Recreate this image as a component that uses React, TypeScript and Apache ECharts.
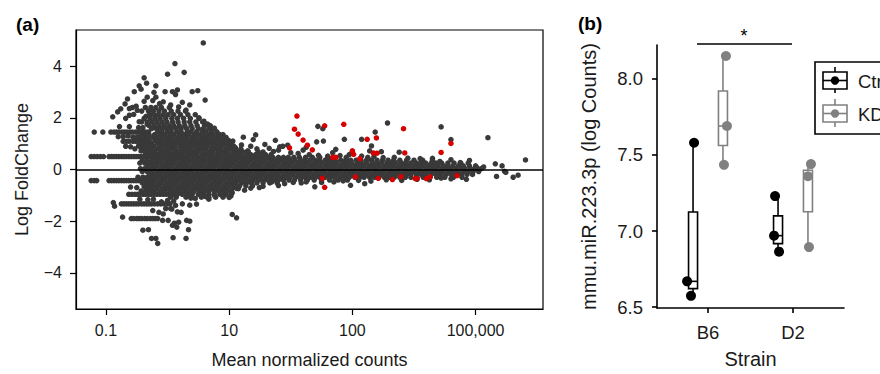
import React, { useEffect, useRef } from 'react';
import * as echarts from 'echarts';

// ---------------- Panel (a): MA plot ----------------
// x = log10(mean normalized counts), y = log fold change
const X_TICK_VALUES = [-1, 1, 3, 5];
const X_TICK_LABELS = ['0.1', '10', '100', '100,000'];
const Y_TICK_VALUES = [-4, -2, 0, 2, 4];

// discrete low-count bands: [logFC, xs]
const BAND_ROWS: [number, number[]][] = [
  [1.45, [-1.19, -1.05, -0.92, -0.87, -0.83, -0.79, -0.74, -0.7, -0.66, -0.61, -0.57, -0.52, -0.48, -0.44, -0.39, -0.35, -0.31]],
  [1.09, [-0.72, -0.67, -0.62, -0.56, -0.51, -0.46, -0.41]],
  [0.5, [-1.24, -1.19, -1.14, -1.09, -1.04, -0.95, -0.91, -0.87, -0.83, -0.79, -0.75, -0.71, -0.67, -0.63, -0.59, -0.55, -0.51, -0.47, -0.43, -0.39, -0.35, -0.31, -0.27]],
  [-0.43, [-1.24, -1.19, -1.15, -0.95, -0.91, -0.87, -0.83, -0.79, -0.75, -0.71, -0.67, -0.63, -0.59, -0.55, -0.51, -0.47, -0.43, -0.39, -0.35, -0.31, -0.27, -0.23]],
  [-0.96, [-0.63, -0.58, -0.53, -0.49, -0.45, -0.4, -0.36, -0.31, -0.27, -0.22, -0.17, -0.12, -0.07, -0.02, 0.03, 0.09, 0.16, 0.24, 0.33, 0.4, 0.5, 0.58, 0.67, 0.76, 0.85, 0.95]],
  [-1.33, [-0.75, -0.71, -0.67, -0.63, -0.59, -0.55, -0.51, -0.47, -0.42, -0.38, -0.34, -0.3, -0.26, -0.21, -0.16, -0.11, -0.06, 0.0, 0.04]],
  [-1.9, [-0.59, -0.55, -0.5, -0.46, -0.42, -0.37, -0.33, -0.28, -0.24, -0.2, -0.16]],
];

// dense cloud, read row by row: [logFC, xs]
const CLOUD_ROWS: [number, number[]][] = [
  [2.4, [-0.36, -0.27, -0.19, -0.1, 0.03]],
  [2.26, [-0.42, -0.31, -0.23, -0.14, -0.05, 0.06, 0.17, 0.29]],
  [2.12, [-0.29, -0.22, -0.15, -0.07, 0.01, 0.1, 0.21, 0.33, 0.45]],
  [1.98, [-0.38, -0.28, -0.2, -0.12, -0.03, 0.07, 0.16, 0.26, 0.37, 0.51]],
  [1.84, [-0.42, -0.33, -0.25, -0.17, -0.09, -0.01, 0.08, 0.17, 0.27, 0.36, 0.46, 0.57]],
  [1.7, [-0.3, -0.22, -0.14, -0.06, 0.02, 0.1, 0.19, 0.28, 0.38, 0.48, 0.6, 0.69]],
  [1.58, [-0.26, -0.18, -0.1, -0.02, 0.06, 0.14, 0.22, 0.31, 0.4, 0.5, 0.58, 0.67, 0.75]],
  [1.46, [-0.16, -0.09, 0.0, 0.06, 0.15, 0.22, 0.32, 0.38, 0.47, 0.56, 0.62, 0.71, 0.8]],
  [1.35, [-0.38, -0.3, -0.21, -0.12, -0.05, 0.04, 0.1, 0.19, 0.27, 0.34, 0.43, 0.5, 0.58, 0.67, 0.74, 0.83, 0.9]],
  [1.24, [-0.45, -0.33, -0.24, -0.17, -0.08, 0.0, 0.07, 0.16, 0.23, 0.31, 0.4, 0.46, 0.55, 0.63, 0.7, 0.79, 0.86, 0.95]],
  [1.13, [-0.5, -0.4, -0.3, -0.2, -0.13, -0.04, 0.03, 0.12, 0.2, 0.27, 0.36, 0.43, 0.51, 0.6, 0.66, 0.75, 0.83, 0.9, 0.99]],
  [1.02, [-0.42, -0.34, -0.26, -0.16, -0.09, 0.0, 0.08, 0.15, 0.24, 0.31, 0.39, 0.47, 0.55, 0.63, 0.71, 0.78, 0.87, 0.94, 1.03]],
  [0.91, [-0.47, -0.38, -0.3, -0.22, -0.13, -0.05, 0.03, 0.11, 0.2, 0.27, 0.35, 0.42, 0.51, 0.59, 0.66, 0.75, 0.83, 0.9, 0.99, 1.07]],
  [0.8, [-0.41, -0.33, -0.25, -0.17, -0.1, -0.01, 0.07, 0.14, 0.23, 0.31, 0.38, 0.47, 0.55, 0.62, 0.71, 0.79, 0.86, 0.95, 1.03, 1.1, 1.19]],
  [0.69, [-0.37, -0.29, -0.21, -0.12, -0.05, 0.03, 0.12, 0.19, 0.27, 0.35, 0.43, 0.5, 0.59, 0.67, 0.74, 0.83, 0.91, 0.98, 1.07, 1.15, 1.22, 1.31, 1.47]],
  [0.58, [-0.32, -0.24, -0.16, -0.08, 0.0, 0.08, 0.16, 0.23, 0.32, 0.39, 0.47, 0.56, 0.63, 0.71, 0.8, 0.87, 0.95, 1.04, 1.11, 1.19, 1.28, 1.35, 1.43, 1.52, 1.59, 1.68]],
  [0.47, [-0.2, -0.12, -0.04, 0.04, 0.11, 0.2, 0.28, 0.35, 0.44, 0.51, 0.59, 0.68, 0.75, 0.83, 0.92, 0.99, 1.07, 1.16, 1.23, 1.31, 1.4, 1.47, 1.55, 1.64, 1.71, 1.8, 1.88, 1.96, 2.05, 2.14, 2.24, 2.35, 2.47, 2.6, 2.9, 3.25]],
  [0.36, [-0.41, -0.33, -0.25, -0.16, -0.09, 0.0, 0.07, 0.15, 0.24, 0.31, 0.39, 0.48, 0.55, 0.63, 0.72, 0.79, 0.87, 0.96, 1.03, 1.11, 1.2, 1.27, 1.35, 1.44, 1.51, 1.59, 1.68, 1.75, 1.83, 1.92, 1.99, 2.07, 2.16, 2.23, 2.31, 2.4, 2.47, 2.56, 2.64, 2.72, 2.81, 2.89, 2.97, 3.06, 3.14, 3.23, 3.31, 3.4, 3.49, 3.58, 3.67, 3.77, 3.88, 4.0, 4.14, 4.3]],
  [0.25, [-0.45, -0.37, -0.29, -0.21, -0.13, -0.04, 0.03, 0.11, 0.2, 0.27, 0.35, 0.44, 0.51, 0.59, 0.68, 0.75, 0.83, 0.92, 0.99, 1.07, 1.16, 1.23, 1.31, 1.4, 1.47, 1.55, 1.64, 1.71, 1.79, 1.88, 1.95, 2.03, 2.12, 2.19, 2.27, 2.36, 2.43, 2.51, 2.6, 2.67, 2.75, 2.84, 2.91, 2.99, 3.08, 3.15, 3.23, 3.32, 3.39, 3.47, 3.56, 3.63, 3.71, 3.8, 3.87, 3.95, 4.04, 4.11, 4.19, 4.28, 4.36, 4.45, 4.55, 4.65, 4.76, 4.88]],
  [0.14, [-0.33, -0.25, -0.17, -0.08, -0.01, 0.07, 0.16, 0.23, 0.31, 0.4, 0.47, 0.55, 0.64, 0.71, 0.79, 0.88, 0.95, 1.03, 1.12, 1.19, 1.27, 1.36, 1.43, 1.51, 1.6, 1.67, 1.75, 1.84, 1.91, 1.99, 2.08, 2.15, 2.23, 2.32, 2.39, 2.47, 2.56, 2.63, 2.71, 2.8, 2.87, 2.95, 3.04, 3.11, 3.19, 3.28, 3.35, 3.43, 3.52, 3.59, 3.67, 3.76, 3.83, 3.91, 4.0, 4.07, 4.15, 4.24, 4.31, 4.39, 4.48, 4.55, 4.63, 4.72, 4.8, 4.9, 5.0]],
  [0.03, [-0.44, -0.37, -0.29, -0.21, -0.12, -0.05, 0.03, 0.12, 0.19, 0.27, 0.36, 0.43, 0.51, 0.6, 0.67, 0.75, 0.84, 0.91, 0.99, 1.08, 1.15, 1.23, 1.32, 1.39, 1.47, 1.56, 1.63, 1.71, 1.8, 1.87, 1.95, 2.04, 2.11, 2.19, 2.28, 2.35, 2.43, 2.52, 2.59, 2.67, 2.76, 2.83, 2.91, 3.0, 3.07, 3.15, 3.24, 3.31, 3.39, 3.48, 3.55, 3.63, 3.72, 3.79, 3.87, 3.96, 4.03, 4.11, 4.2, 4.27, 4.35, 4.44, 4.51, 4.59, 4.68, 4.75, 4.83, 4.92, 5.0, 5.09]],
  [-0.08, [-0.41, -0.33, -0.25, -0.16, -0.09, 0.0, 0.08, 0.15, 0.24, 0.32, 0.39, 0.48, 0.56, 0.63, 0.72, 0.8, 0.87, 0.96, 1.04, 1.11, 1.2, 1.28, 1.35, 1.44, 1.52, 1.59, 1.68, 1.76, 1.83, 1.92, 2.0, 2.07, 2.16, 2.24, 2.31, 2.4, 2.48, 2.55, 2.64, 2.72, 2.79, 2.88, 2.96, 3.03, 3.12, 3.2, 3.27, 3.36, 3.44, 3.51, 3.6, 3.68, 3.75, 3.84, 3.92, 3.99, 4.08, 4.16, 4.23, 4.32, 4.4, 4.47, 4.56, 4.64, 4.71, 4.8, 4.88, 4.96, 5.05]],
  [-0.19, [-0.29, -0.21, -0.13, -0.04, 0.04, 0.11, 0.2, 0.28, 0.35, 0.44, 0.52, 0.59, 0.68, 0.76, 0.83, 0.92, 1.0, 1.07, 1.16, 1.24, 1.31, 1.4, 1.48, 1.55, 1.64, 1.72, 1.79, 1.88, 1.96, 2.03, 2.12, 2.2, 2.27, 2.36, 2.44, 2.51, 2.6, 2.68, 2.75, 2.84, 2.92, 2.99, 3.08, 3.16, 3.23, 3.32, 3.4, 3.47, 3.56, 3.64, 3.71, 3.8, 3.88, 3.95, 4.04, 4.12, 4.19, 4.28, 4.36, 4.43, 4.52, 4.6, 4.68, 4.77, 4.86, 4.95]],
  [-0.3, [-0.48, -0.4, -0.33, -0.25, -0.17, -0.08, 0.0, 0.07, 0.16, 0.24, 0.31, 0.4, 0.48, 0.55, 0.64, 0.72, 0.79, 0.88, 0.96, 1.03, 1.12, 1.2, 1.27, 1.36, 1.44, 1.51, 1.6, 1.68, 1.75, 1.84, 1.92, 1.99, 2.08, 2.16, 2.23, 2.32, 2.4, 2.47, 2.56, 2.64, 2.71, 2.8, 2.88, 2.95, 3.04, 3.12, 3.19, 3.28, 3.36, 3.43, 3.52, 3.6, 3.68, 3.77, 3.86, 3.95, 4.05, 4.15, 4.26, 4.37, 4.5, 4.64, 4.78]],
  [-0.41, [-0.21, -0.12, -0.05, 0.04, 0.12, 0.19, 0.28, 0.36, 0.43, 0.52, 0.6, 0.67, 0.76, 0.84, 0.91, 1.0, 1.08, 1.15, 1.24, 1.32, 1.39, 1.48, 1.56, 1.63, 1.72, 1.8, 1.88, 1.97, 2.06, 2.16, 2.27, 2.38, 2.5, 2.63, 2.77, 2.92]],
  [-0.52, [-0.41, -0.33, -0.25, -0.16, -0.09, 0.0, 0.08, 0.15, 0.24, 0.32, 0.39, 0.48, 0.56, 0.63, 0.72, 0.8, 0.87, 0.96, 1.04, 1.11, 1.2, 1.28, 1.36, 1.45, 1.55, 1.66, 1.78]],
  [-0.63, [-0.37, -0.29, -0.21, -0.13, -0.04, 0.04, 0.11, 0.2, 0.28, 0.35, 0.44, 0.52, 0.59, 0.68, 0.76, 0.83, 0.92, 1.0, 1.08, 1.17, 1.27, 1.38]],
  [-0.74, [-0.33, -0.25, -0.17, -0.08, 0.0, 0.07, 0.16, 0.24, 0.31, 0.4, 0.48, 0.55, 0.64, 0.72, 0.79, 0.88, 0.96, 1.05, 1.15]],
  [-0.85, [-0.36, -0.29, -0.21, -0.12, -0.05, 0.04, 0.12, 0.19, 0.28, 0.36, 0.43, 0.52, 0.6, 0.67, 0.76, 0.84, 0.92, 1.01]],
  [-1.07, [0.05, 0.14, 0.3, 0.38, 0.55, 0.67, 0.78, 0.9]],
];

// individual non-significant genes outside the dense cloud: [log10 mean, logFC]
const SCATTERED_GENES: [number, number][] = [
  [-0.89, 2.04], [-0.81, 2.23], [-0.76, 2.35], [-0.69, 2.54], [-0.65, 2.73], [-0.54, 3.01], [-0.46, 3.24], [-0.43, 3.11],
  [-0.38, 3.55], [-0.34, 3.34], [-0.19, 3.24], [-0.22, 2.99], [-0.04, 3.01], [0.0, 3.69], [0.08, 3.01], [0.12, 4.1],
  [0.16, 3.08], [0.13, 2.9], [0.27, 3.76], [0.24, 2.6], [0.18, 2.42], [0.4, 3.01], [0.49, 3.05], [0.58, 4.9],
  [0.61, 2.69], [0.51, 2.0], [0.59, 1.87], [0.65, 1.76], [0.7, 1.66], [0.76, 1.6], [0.84, 1.36], [0.89, 1.2],
  [-0.78, 1.66], [-0.68, 1.98], [-0.62, 2.1], [-0.55, 2.13], [-0.49, 2.29], [-0.57, 2.4], [-0.51, 2.45], [-0.62, 2.36],
  [-0.38, 2.64], [-0.33, 2.8], [-0.24, 2.67], [-0.19, 2.8], [-0.46, 1.85], [-0.35, 2.06], [-0.13, 2.55], [-0.07, 2.62],
  [0.05, 2.5], [0.3, 2.3], [0.36, 2.5],
  [-0.68, 0.9], [-0.6, 0.88], [-0.53, 0.8], [-0.45, 0.9], [-0.38, 0.9], [-0.35, 0.84], [-0.43, 0.72], [-0.3, 0.69],
  [-0.49, 1.26], [-0.42, 1.3], [-0.35, 1.2], [-0.56, 1.25], [-0.8, 1.27], [-0.72, 1.27], [-0.64, 1.3], [-0.4, 1.62],
  [-0.33, 1.75], [-0.47, 1.62], [-0.62, 1.66],
  [-0.88, -1.28], [-0.86, -1.42], [-0.73, -1.84], [-0.38, -0.67], [-0.31, -0.74], [-0.24, -0.78], [-0.43, -0.83],
  [-0.5, -0.7], [-0.6, -0.68], [-0.23, -1.15], [-0.32, -1.17], [-0.45, -1.15], [-0.14, -1.66], [-0.24, -1.59],
  [-0.03, -1.51], [-0.07, -1.72], [0.05, -1.51], [0.07, -1.53], [0.16, -1.64], [0.13, -1.39], [0.22, -1.66],
  [0.24, -1.33], [0.36, -1.38], [0.47, -1.34], [0.38, -1.11], [0.45, -1.12], [0.67, -1.15], [0.76, -0.99],
  [0.89, -0.92], [1.03, -1.02], [1.0, -1.08], [-0.08, -1.97], [0.01, -1.97], [0.11, -2.08], [0.15, -2.23],
  [0.08, -2.16], [0.18, -2.04], [0.31, -1.97], [0.36, -2.0], [0.34, -2.33], [0.09, -2.64], [0.3, -2.67],
  [-0.16, -2.86], [-0.19, -2.67], [-0.26, -2.67], [-0.4, -2.35], [-0.31, -2.33], [1.05, -1.74], [1.12, -1.87],
  [-0.1, -1.25], [0.0, -1.2], [0.1, -1.22], [0.55, -1.0], [0.62, -1.05],
  [1.06, 1.1], [1.23, 1.25], [1.39, 1.16], [1.43, 1.34], [1.58, 0.97], [1.75, 1.13], [1.82, 0.88], [1.87, 0.9],
  [1.95, 0.94], [2.25, 0.86], [2.44, 1.67], [2.52, 1.58], [2.42, 1.07], [2.53, 1.1], [2.87, 1.17], [3.15, 1.17],
  [3.31, 0.91], [3.37, 1.45], [3.57, 1.8], [2.68, 0.65], [2.73, 0.78], [3.28, 0.72], [3.47, 0.69], [3.76, 0.67],
  [4.44, 1.65], [4.6, 1.16], [5.2, 1.23], [4.42, 0.31], [4.75, 0.27], [5.32, 0.22], [5.43, 0.14], [5.81, 0.37],
  [5.47, -0.07], [5.34, -0.27], [5.61, -0.3], [5.69, -0.22], [4.44, -0.33], [5.13, 0.1], [5.02, 0.07], [5.49, -0.11],
  [1.1, 0.85], [1.2, 0.95], [1.3, 0.72], [1.35, 0.9], [1.45, 0.8], [1.55, 0.68], [1.65, 0.82], [1.72, 0.7],
  [1.8, 0.75], [2.0, 0.65], [2.12, 0.62], [2.3, 0.58], [2.45, 0.55], [2.6, 0.52], [2.8, 0.54], [2.95, 0.58],
  [3.15, 0.52], [3.35, 0.5], [3.5, 0.46], [3.68, 0.47], [3.9, 0.44], [4.1, 0.42], [4.3, 0.43], [4.6, 0.38],
  [4.9, 0.35], [3.0, 0.7], [2.2, 0.75],
  [1.05, -0.9], [1.12, -0.73], [1.25, -0.8], [1.49, -0.7], [1.55, -0.65], [1.69, -0.48], [1.9, -0.55], [2.04, -0.5],
  [2.17, -0.52], [2.25, -0.48], [2.39, -0.67], [2.5, -0.5], [2.7, -0.48], [2.85, -0.44], [2.97, -0.61], [3.1, -0.42],
  [3.2, -0.55], [3.3, -0.45], [3.55, -0.4], [3.8, -0.42], [4.05, -0.38], [4.25, -0.4], [4.6, -0.36], [4.85, -0.38],
  [1.8, -0.62], [1.35, -0.72],
];

// significant genes (red)
const SIGNIFICANT_GENES: [number, number][] = [
  [2.1, 2.07], [2.06, 1.56], [2.12, 1.37], [2.2, 1.14], [2.27, 0.94], [2.35, 0.76], [1.98, 0.84], [2.55, 1.69],
  [2.86, 1.75], [2.68, 0.47], [2.73, 0.47], [3.0, 0.72], [3.02, 0.59], [3.12, 0.42], [3.24, 1.17], [3.39, 1.22],
  [3.34, 0.64], [3.4, 0.63], [2.51, -0.34], [2.55, -0.69], [3.05, -0.29], [3.42, -0.34], [3.65, -0.39], [3.83, 1.58],
  [3.85, 0.64], [3.79, -0.28], [4.44, 0.66], [4.6, 1.01], [4.02, -0.35], [4.05, -0.35], [4.2, -0.35], [4.26, -0.29],
  [4.7, -0.24],
];

// ---------------- Panel (b): boxplots ----------------
const STRAINS = ['B6', 'D2'];
const GROUP_NAMES = ['Ctrl', 'KD'];
// log counts per strain (B6, D2)
const CTRL_VALUES: number[][] = [[7.58, 6.67, 6.575], [7.23, 6.97, 6.865]];
const KD_VALUES: number[][] = [[8.15, 7.69, 7.435], [7.44, 7.36, 6.895]];
// horizontal jitter of each point (category units)
const CTRL_JITTER: number[][] = [[0.012, -0.07, -0.024], [-0.035, -0.047, 0.012]];
const KD_JITTER: number[][] = [[0.035, 0.047, 0.012], [0.035, 0.0, 0.012]];
const B_TICKS = [6.5, 7.0, 7.5, 8.0];

const FONT = '"Liberation Sans", Arial, Helvetica, sans-serif';
const TEXT = '#1a1a1a';
const DARK = '#393939';
const RED = '#d60000';
const CTRL_COLOR = '#000000';
const KD_COLOR = '#808080';
const DODGE = 0.176;

function quantile(sorted: number[], p: number) {
  const h = (sorted.length - 1) * p;
  const lo = Math.floor(h);
  const hi = Math.ceil(h);
  return sorted[lo] + (h - lo) * (sorted[hi] - sorted[lo]);
}

function boxStats(vals: number[]) {
  const s = [...vals].sort((a, b) => a - b);
  return [s[0], quantile(s, 0.25), quantile(s, 0.5), quantile(s, 0.75), s[s.length - 1]];
}

function boxRenderer(color: string) {
  return (params: any, api: any) => {
    const x = api.value(0);
    const pMin = api.coord([x, api.value(1)]);
    const pQ1 = api.coord([x, api.value(2)]);
    const pMed = api.coord([x, api.value(3)]);
    const pQ3 = api.coord([x, api.value(4)]);
    const pMax = api.coord([x, api.value(5)]);
    const cx = pMin[0];
    const hw = 4.5;
    const ls = { stroke: color, lineWidth: 1.6, fill: 'none' };
    return {
      type: 'group',
      children: [
        { type: 'line', shape: { x1: cx, y1: pMax[1], x2: cx, y2: pQ3[1] }, style: ls },
        { type: 'line', shape: { x1: cx, y1: pQ1[1], x2: cx, y2: pMin[1] }, style: ls },
        { type: 'rect', shape: { x: cx - hw, y: pQ3[1], width: hw * 2, height: pQ1[1] - pQ3[1] }, style: { fill: '#fff', stroke: color, lineWidth: 1.6 } },
        { type: 'line', shape: { x1: cx - hw, y1: pMed[1], x2: cx + hw, y2: pMed[1] }, style: ls },
      ],
    };
  };
}

function buildOption() {
  const darkData: number[][] = [];
  BAND_ROWS.forEach(([y, xs]) => xs.forEach((x) => darkData.push([x, y])));
  CLOUD_ROWS.forEach(([y, xs]) => xs.forEach((x) => darkData.push([x, y])));
  SCATTERED_GENES.forEach((p) => darkData.push(p));

  const ctrlBoxes = CTRL_VALUES.map((v, i) => [i - DODGE, ...boxStats(v)]);
  const kdBoxes = KD_VALUES.map((v, i) => [i + DODGE, ...boxStats(v)]);
  const ctrlPts: number[][] = [];
  CTRL_VALUES.forEach((vals, i) => vals.forEach((v, j) => ctrlPts.push([i - DODGE + CTRL_JITTER[i][j], v])));
  const kdPts: number[][] = [];
  KD_VALUES.forEach((vals, i) => vals.forEach((v, j) => kdPts.push([i + DODGE + KD_JITTER[i][j], v])));

  const minus = (v: number) => (v < 0 ? '\u2212' + Math.abs(v) : String(v));
  const axisLineA = { show: true, onZero: false, lineStyle: { color: '#000', width: 1.2 } };
  const axisLineB = { show: true, onZero: false, lineStyle: { color: '#000', width: 1.6 } };

  return {
    animation: false,
    backgroundColor: '#fff',
    textStyle: { fontFamily: FONT },
    grid: [
      { left: 76, top: 30, width: 467, height: 283, show: true, borderColor: '#000', borderWidth: 1.2, backgroundColor: 'transparent' },
      { left: 657, top: 45, width: 187, height: 267 },
    ],
    xAxis: [
      {
        gridIndex: 0, type: 'value', min: -1.486, max: 6.094,
        axisLine: axisLineA,
        splitLine: { show: false },
        axisTick: { show: true, length: 6, customValues: X_TICK_VALUES, lineStyle: { color: '#000', width: 1.2 } },
        axisLabel: {
          customValues: X_TICK_VALUES,
          formatter: (v: number) => X_TICK_LABELS[X_TICK_VALUES.indexOf(Math.round(v))] ?? '',
          fontSize: 16, color: TEXT, margin: 13, fontFamily: FONT,
        },
        name: 'Mean normalized counts', nameLocation: 'middle', nameGap: 42,
        nameTextStyle: { fontSize: 18, color: TEXT, fontFamily: FONT },
      },
      {
        gridIndex: 1, type: 'value', min: -0.6, max: 1.6,
        axisLine: axisLineB,
        splitLine: { show: false },
        axisTick: { show: true, length: 5, customValues: [0, 1], lineStyle: { color: '#000', width: 1.6 } },
        axisLabel: {
          customValues: [0, 1],
          formatter: (v: number) => STRAINS[Math.round(v)] ?? '',
          fontSize: 18.5, color: TEXT, margin: 15, fontFamily: FONT,
        },
        name: 'Strain', nameLocation: 'middle', nameGap: 41,
        nameTextStyle: { fontSize: 20, color: TEXT, fontFamily: FONT },
      },
    ],
    yAxis: [
      {
        gridIndex: 0, type: 'value', min: -5.4, max: 5.4,
        axisLine: axisLineA,
        splitLine: { show: false },
        axisTick: { show: true, length: 6, customValues: Y_TICK_VALUES, lineStyle: { color: '#000', width: 1.2 } },
        axisLabel: { customValues: Y_TICK_VALUES, formatter: minus, fontSize: 16, color: TEXT, margin: 14, fontFamily: FONT },
        name: 'Log FoldChange', nameLocation: 'middle', nameGap: 45,
        nameTextStyle: { fontSize: 18, color: TEXT, fontFamily: FONT },
      },
      {
        gridIndex: 1, type: 'value', min: 6.495, max: 8.222,
        axisLine: axisLineB,
        splitLine: { show: false },
        axisTick: { show: true, length: 5, customValues: B_TICKS, lineStyle: { color: '#000', width: 1.6 } },
        axisLabel: { customValues: B_TICKS, formatter: (v: number) => v.toFixed(1), fontSize: 18.5, color: TEXT, margin: 14, fontFamily: FONT },
        name: 'mmu.miR.223.3p (log Counts)', nameLocation: 'middle', nameGap: 58,
        nameTextStyle: { fontSize: 20, color: TEXT, fontFamily: FONT },
      },
    ],
    series: [
      {
        name: 'genes', type: 'scatter', xAxisIndex: 0, yAxisIndex: 0, data: darkData,
        symbol: 'circle', symbolSize: 5.5, itemStyle: { color: DARK, opacity: 1 }, silent: true, z: 2,
      },
      {
        name: 'significant', type: 'scatter', xAxisIndex: 0, yAxisIndex: 0, data: SIGNIFICANT_GENES,
        symbol: 'circle', symbolSize: 5.5, itemStyle: { color: RED, opacity: 1 }, silent: true, z: 3,
        markLine: {
          silent: true, symbol: ['none', 'none'], label: { show: false },
          lineStyle: { color: '#000', width: 1.5, type: 'solid', opacity: 1 },
          data: [{ yAxis: 0 }],
        },
      },
      {
        name: GROUP_NAMES[0] + ' box', type: 'custom', xAxisIndex: 1, yAxisIndex: 1, data: ctrlBoxes,
        encode: { x: 0, y: [1, 2, 3, 4, 5] }, renderItem: boxRenderer(CTRL_COLOR), silent: true, z: 2,
      },
      {
        name: GROUP_NAMES[1] + ' box', type: 'custom', xAxisIndex: 1, yAxisIndex: 1, data: kdBoxes,
        encode: { x: 0, y: [1, 2, 3, 4, 5] }, renderItem: boxRenderer(KD_COLOR), silent: true, z: 2,
      },
      {
        name: GROUP_NAMES[0], type: 'scatter', xAxisIndex: 1, yAxisIndex: 1, data: ctrlPts,
        symbolSize: 10, itemStyle: { color: CTRL_COLOR, opacity: 1 }, silent: true, z: 4,
      },
      {
        name: GROUP_NAMES[1], type: 'scatter', xAxisIndex: 1, yAxisIndex: 1, data: kdPts,
        symbolSize: 10, itemStyle: { color: KD_COLOR, opacity: 1 }, silent: true, z: 4,
      },
    ],
    graphic: [
      { type: 'text', x: 16, y: 24, style: { text: '(a)', font: `bold 19px ${FONT}`, fill: '#000', verticalAlign: 'middle', align: 'left' } },
      { type: 'text', x: 578, y: 23, style: { text: '(b)', font: `bold 19px ${FONT}`, fill: '#000', verticalAlign: 'middle', align: 'left' } },
      // significance bar
      { type: 'line', shape: { x1: 697, y1: 44, x2: 792, y2: 44 }, style: { stroke: '#000', lineWidth: 1.4 } },
      { type: 'text', x: 744, y: 36, style: { text: '*', font: `18px ${FONT}`, fill: '#000', align: 'center', verticalAlign: 'middle' } },
      // legend (clipped at the right edge, as in the reference)
      { type: 'rect', shape: { x: 815, y: 62, width: 120, height: 72 }, style: { fill: '#fff', stroke: '#000', lineWidth: 1.6 } },
      { type: 'line', shape: { x1: 835, y1: 67, x2: 835, y2: 93 }, style: { stroke: CTRL_COLOR, lineWidth: 1.6 } },
      { type: 'rect', shape: { x: 823, y: 72, width: 24, height: 17 }, style: { fill: '#fff', stroke: CTRL_COLOR, lineWidth: 1.6 } },
      { type: 'line', shape: { x1: 823, y1: 80.5, x2: 847, y2: 80.5 }, style: { stroke: CTRL_COLOR, lineWidth: 1.6 } },
      { type: 'circle', shape: { cx: 835, cy: 80.5, r: 4.2 }, style: { fill: CTRL_COLOR } },
      { type: 'text', x: 858, y: 81, style: { text: GROUP_NAMES[0], font: `18.5px ${FONT}`, fill: TEXT, verticalAlign: 'middle', align: 'left' } },
      { type: 'line', shape: { x1: 835, y1: 99, x2: 835, y2: 127 }, style: { stroke: KD_COLOR, lineWidth: 1.6 } },
      { type: 'rect', shape: { x: 823, y: 105, width: 24, height: 17 }, style: { fill: '#fff', stroke: KD_COLOR, lineWidth: 1.6 } },
      { type: 'line', shape: { x1: 823, y1: 113.5, x2: 847, y2: 113.5 }, style: { stroke: KD_COLOR, lineWidth: 1.6 } },
      { type: 'circle', shape: { cx: 835, cy: 113.5, r: 4.2 }, style: { fill: KD_COLOR } },
      { type: 'text', x: 858, y: 114, style: { text: GROUP_NAMES[1], font: `18.5px ${FONT}`, fill: TEXT, verticalAlign: 'middle', align: 'left' } },
    ],
  };
}

export default function App() {
  const ref = useRef<HTMLDivElement>(null);
  useEffect(() => {
    if (!ref.current) return;
    const chart = echarts.init(ref.current, null, { renderer: 'svg' });
    chart.setOption(buildOption() as any);
    return () => chart.dispose();
  }, []);
  return (
    <div
      ref={ref}
      style={{ position: 'fixed', left: 0, top: 0, width: 880, height: 374, background: '#fff' }}
    />
  );
}
